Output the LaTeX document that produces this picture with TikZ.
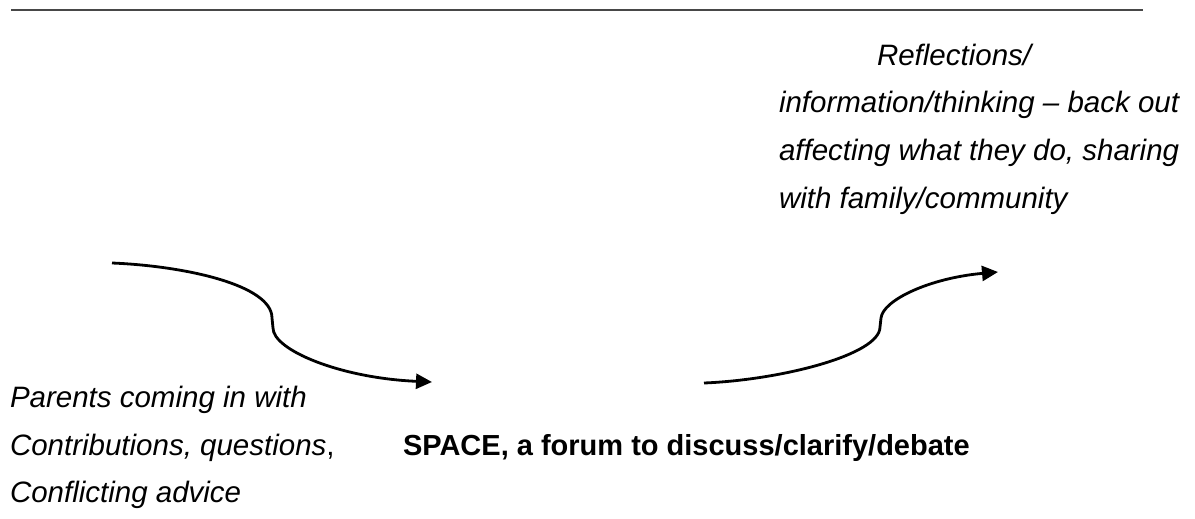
\documentclass[tikz,border=0pt]{standalone}
\usepackage{fontspec}
\setmainfont{Liberation Sans}
\usetikzlibrary{arrows.meta}
\begin{document}
\begin{tikzpicture}[x=1pt,y=-1pt,
  lbl/.style={inner sep=0pt,outer sep=0pt,anchor=base west,font=\fontsize{29.5}{35}\selectfont\itshape},
  bold/.style={inner sep=0pt,outer sep=0pt,anchor=base west,font=\fontsize{29}{35}\selectfont\bfseries},
  flow/.style={line width=2.8pt,-{Triangle[length=16pt,width=15pt]}},
  rule/.style={line width=2.2pt,draw=black!72}]
\useasboundingbox (0,0) rectangle (1195,519);
% top rule
\coordinate (r1) at (11,10);
\coordinate (r2) at (1143,10);
\draw[rule] (r1) -- (r2);
% right text block
\node[lbl] (refl1) at (877,66) {Reflections/};
\node[lbl] (refl2) at (779,113) {information/thinking -- back out};
\node[lbl] (refl3) at (779,160.5) {affecting what they do, sharing};
\node[lbl] (refl4) at (779,208) {with family/community};
% left text block
\node[lbl] (par1) at (10,407.5) {Parents coming in with};
\node[lbl] (par2) at (10,455) {Contributions, questions\upshape,};
\node[lbl] (par3) at (10,502.5) {Conflicting advice};
% centre
\node[bold] (space) at (403,455.5) {SPACE, a forum to discuss/clarify/debate};
% arrows
\coordinate (a1s) at (112,263);
\coordinate (a1m) at (272,318);
\coordinate (a1n) at (273,328);
\coordinate (a1e) at (432,382);
\coordinate (a2s) at (704,383);
\coordinate (a2m) at (880,327);
\coordinate (a2n) at (881,318);
\coordinate (a2e) at (998,272);
\draw[flow] (a1s) .. controls (185,266) and (272,285) .. (a1m) -- (a1n)
  .. controls (273,350) and (340,378) .. (a1e);
\draw[flow] (a2s) .. controls (780,380) and (880,355) .. (a2m) -- (a2n)
  .. controls (883,300) and (930,278) .. (a2e);
\end{tikzpicture}
\end{document}
